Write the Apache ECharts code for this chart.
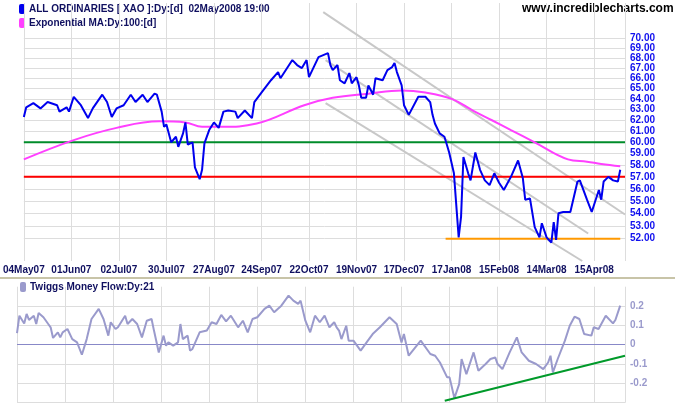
<!DOCTYPE html>
<html>
<head>
<meta charset="utf-8">
<script src="https://cdn.jsdelivr.net/npm/echarts@6/dist/echarts.min.js"></script>
<style>
  html, body { margin: 0; padding: 0; background: #fff; }
  #chart { width: 675px; height: 410px; }
</style>
</head>
<body>
<div id="chart"></div>
<script>
// trading day index (0 = 04May07) and price (hundreds)
const priceDay = [0, 1, 4, 7, 10, 14, 15, 18, 19, 21, 24, 27, 29, 33, 35, 37, 39, 42, 45, 47, 50, 52, 55, 56, 58, 59, 60, 62, 64, 65, 67, 68, 69, 71, 72, 74, 75, 76, 78, 80, 82, 84, 86, 89, 90, 93, 96, 97, 100, 104, 107, 108, 113, 115, 117, 119, 120, 124, 128, 129,
  130, 132, 133, 135, 137, 138, 140, 141, 142, 144, 145, 147, 148, 151, 153, 155, 156, 157, 159, 160, 162, 166, 169, 171, 172, 173, 175, 177, 178, 179, 181, 183, 184, 185, 187, 188, 190, 192, 194, 196, 198, 200, 202, 205, 208, 210, 211, 213, 215, 217, 218, 220, 222, 223, 224, 225, 227, 230, 233, 234, 237, 239, 242, 243, 244, 246, 248, 250, 251];
const priceVal = [62.3, 63.2, 63.6, 63.1, 63.7, 63.4, 62.8, 63.2, 62.8, 64.2, 63.4, 62.2, 63.1, 64.4, 63.7, 62.3, 63.1, 63.4, 64.4, 63.7, 64.4, 63.7, 64.5, 64.4, 62.8, 61.4, 61.6, 60.0, 60.5, 59.6, 60.8, 61.8, 59.8, 60.0, 57.8, 56.8, 57.6, 59.9, 61.1, 61.8, 61.3, 62.8, 62.9, 62.8, 62.2, 62.9, 62.2, 63.7, 64.6, 65.8, 66.6, 66.0, 67.8, 67.3, 67.0, 67.8, 66.1, 68.1, 68.5, 67.3,
  66.8, 67.3, 65.8, 65.5, 66.5, 65.5, 66.1, 65.3, 64.1, 64.1, 65.3, 64.4, 66.0, 65.8, 66.8, 67.1, 67.5, 66.6, 65.3, 63.4, 62.5, 64.2, 64.2, 63.7, 62.5, 61.7, 60.8, 60.5, 59.8, 59.1, 57.3, 52.1, 53.7, 58.7, 57.3, 56.7, 59.1, 57.6, 56.7, 56.3, 57.3, 56.5, 55.9, 57.0, 58.4, 56.9, 55.1, 55.2, 52.9, 52.1, 53.2, 52.1, 51.7, 53.3, 51.9, 54.0, 54.1, 54.1, 56.6, 56.7, 55.1, 54.1, 55.9, 55.1, 56.6, 57.0, 56.7, 56.6, 57.6];

const emaDay = [0, 21, 39, 57, 68, 75, 83, 98, 118, 130, 145, 159, 169, 180, 189, 197, 205, 215, 229, 237, 243, 251];
const emaVal = [58.5, 60.2, 61.3, 61.9, 61.8, 61.4, 61.4, 61.7, 63.4, 64.1, 64.5, 64.8, 64.6, 64.0, 62.9, 62.0, 61.1, 60.0, 58.5, 58.3, 58.1, 57.9];

const tmfDay = [0, 1, 3, 4, 5, 7, 8, 9, 11, 13, 14, 15, 17, 18, 19, 21, 23, 25, 27, 29, 31, 34, 36, 38, 39, 41, 42, 45, 46, 48, 50, 52, 54, 56, 57, 59, 61, 62, 63, 65, 67, 68, 69, 71, 72, 73, 76, 79, 81, 83, 85, 87, 89, 92, 94, 96, 98, 100, 103, 105, 107, 110, 113, 115, 117, 118, 120, 122, 124, 126, 128, 130, 132, 133, 134, 135, 137, 138, 140, 143, 146, 148, 151, 155, 158, 160, 161, 163, 168, 172, 174, 176, 179, 180, 182, 184, 185, 187, 190, 192, 195, 197, 199, 200, 202, 205, 208, 210, 213, 216, 219, 221, 222, 223, 225, 228, 230, 232, 234, 236, 239, 240, 242, 245, 248, 249, 251];
const tmfVal = [0.06, 0.15, 0.11, 0.159, 0.128, 0.15, 0.107, 0.164, 0.142, 0.107, 0.09, 0.035, 0.064, 0.038, 0.064, 0.081, 0.029, 0.012, -0.052, 0.029, 0.133, 0.185, 0.133, 0.047, 0.116, 0.081, 0.09, 0.15, 0.107, 0.133, 0.107, 0.038, 0.124, 0.133, 0.073, -0.04, 0.047, -0.005, 0.012, -0.005, 0.012, 0.107, 0.029, 0.047, -0.031, -0.022, 0.064, 0.073, 0.116, 0.107, 0.154, 0.121, 0.15, 0.09, 0.124, 0.064, 0.133, 0.142, 0.185, 0.202, 0.168, 0.202, 0.254, 0.228, 0.211, 0.228, 0.124, 0.064, 0.15, 0.116, 0.15, 0.09, 0.116, 0.09, 0.073, 0.029, 0.098, 0.021, 0.021, -0.031, 0.021, 0.055, 0.09, 0.142, 0.107, 0.012, 0.055, -0.057, 0.021, -0.048, -0.057, -0.092, -0.169, -0.169, -0.276, -0.204, -0.074, -0.152, -0.04, -0.135, -0.1, -0.074, -0.066, -0.1, -0.126, -0.04, 0.038, -0.04, -0.083, -0.1, -0.126, -0.092, -0.057, -0.143, -0.074, 0.021, 0.098, 0.145, 0.133, 0.055, 0.047, 0.09, 0.081, 0.15, 0.11, 0.128, 0.202];

const dateLabels = ['04May07', '01Jun07', '02Jul07', '30Jul07', '27Aug07', '24Sep07', '22Oct07', '19Nov07', '17Dec07', '17Jan08', '15Feb08', '14Mar08', '15Apr08'];
const priceTicks = [52, 53, 54, 55, 56, 57, 58, 59, 60, 61, 62, 63, 64, 65, 66, 67, 68, 69, 70];
const tmfTicks = [-0.2, -0.1, 0, 0.1, 0.2];
const tmfGrid = [-0.3, -0.2, -0.1, 0.1, 0.2];

// hand-drawn lines: [day, value] end points
const greenLevel = [[0, 60], [253, 60]];
const redLevel = [[0, 57], [253, 57]];
const orangeLevel = [[177.5, 52], [251, 52]];
const channels = [
  [[126, 72.8], [253, 53.9]],
  [[127, 67.8], [237.5, 52.4]],
  [[127, 63.6], [235, 50.3]]
];
const tmfTrend = [[178, -0.29], [253, -0.057]];

const LN_MIN = Math.log(50.3);
const LN_MAX = Math.log(73.8);
const ln = p => [p[0], Math.log(p[1])];

const myChart = echarts.init(document.getElementById('chart'));

const xBase = {
  type: 'value', min: 0, max: 253, interval: 20,
  axisLine: { show: false }, axisTick: { show: false },
  splitLine: { show: true, lineStyle: { color: '#dddddd' } }
};

function lineSeries(data, color, width, yIdx, extra) {
  return Object.assign({
    type: 'line', xAxisIndex: yIdx, yAxisIndex: yIdx, data, z: 5,
    symbol: 'none', silent: true,
    lineStyle: { color, width }
  }, extra || {});
}

let series = [];

// price grid lines + right labels
series.push({
  type: 'line', xAxisIndex: 0, yAxisIndex: 0, data: [], silent: true, z: 1,
  markLine: {
    symbol: 'none', silent: true, precision: 10, z: 1,
    lineStyle: { color: '#dddddd', width: 1, type: 'solid' },
    label: {
      position: 'end', distance: 5, color: '#1010ee',
      fontFamily: 'Liberation Sans', fontWeight: 'bold', fontSize: 10,
      formatter: p => Math.exp(p.value).toFixed(2)
    },
    data: priceTicks.map(v => ({ yAxis: Math.log(v) }))
  }
});
channels.forEach(c => series.push(lineSeries(c.map(ln), '#c8c8c8', 2, 0)));
series.push(lineSeries(greenLevel.map(ln), '#008c2a', 2, 0));
series.push(lineSeries(redLevel.map(ln), '#ff0000', 2, 0));
series.push(lineSeries(orangeLevel.map(ln), '#ff9900', 2, 0));
series.push(lineSeries(emaDay.map((d, i) => [d, Math.log(emaVal[i])]), '#ff40ff', 2, 0, { smooth: 0.4 }));
series.push(lineSeries(priceDay.map((d, i) => [d, Math.log(priceVal[i])]), '#0000ee', 2, 0));

// money flow grid + zero line
series.push({
  type: 'line', xAxisIndex: 1, yAxisIndex: 1, data: [], silent: true, z: 1,
  markLine: {
    symbol: 'none', silent: true, precision: 10, z: 1,
    label: { show: false },
    data: tmfGrid.map(v => ({ yAxis: v, lineStyle: { color: '#dddddd', width: 1, type: 'solid' } }))
      .concat([{ yAxis: 0, lineStyle: { color: '#8888c8', width: 1, type: 'solid' } }])
  }
});
series.push(lineSeries(tmfDay.map((d, i) => [d, tmfVal[i]]), '#9a9acc', 2, 1));
series.push(lineSeries(tmfTrend, '#009a2a', 2, 1));

const option = {
  animation: false,
  backgroundColor: '#ffffff',
  grid: [
    { left: 17, right: 50, top: 3, height: 258 },
    { left: 17, right: 50, top: 286.7, height: 116 }
  ],
  xAxis: [
    Object.assign({}, xBase, {
      gridIndex: 0,
      axisLabel: {
        show: true, margin: 4, color: '#101060', fontFamily: 'Liberation Sans',
        fontWeight: 'bold', fontSize: 10,
        formatter: v => dateLabels[v / 20] || ''
      }
    }),
    Object.assign({}, xBase, { gridIndex: 1, axisLabel: { show: false } })
  ],
  yAxis: [
    { type: 'value', gridIndex: 0, min: LN_MIN, max: LN_MAX, show: false, splitLine: { show: false } },
    {
      type: 'value', gridIndex: 1, min: -0.3, max: 0.3, interval: 0.1, position: 'right',
      axisLine: { show: false }, axisTick: { show: false },
      splitLine: { show: false },
      axisLabel: {
        color: '#9a9acc', fontFamily: 'Liberation Sans', fontWeight: 'bold', fontSize: 10, margin: 5,
        formatter: v => {
          const r = Math.round(v * 10) / 10;
          return tmfTicks.indexOf(r) >= 0 ? String(r) : '';
        }
      }
    }
  ],
  graphic: [
    { type: 'rect', shape: { x: 0, y: 277, width: 675, height: 2 }, style: { fill: '#c8c4a8' } },
    { type: 'rect', shape: { x: 19, y: 4, width: 6, height: 10, r: 2 }, style: { fill: '#0000ee' } },
    { type: 'text', x: 29, y: 4, style: { text: 'ALL ORDINARIES [ XAO ]:Dy:[d]  02May2008 19:00', fill: '#101060', font: 'bold 10px "Liberation Sans"' } },
    { type: 'rect', shape: { x: 19, y: 18, width: 6, height: 10, r: 2 }, style: { fill: '#ff40ff' } },
    { type: 'text', x: 29, y: 18, style: { text: 'Exponential MA:Dy:100:[d]', fill: '#101060', font: 'bold 10px "Liberation Sans"' } },
    { type: 'rect', shape: { x: 20, y: 282, width: 6, height: 10, r: 2 }, style: { fill: '#9a9acc' } },
    { type: 'text', x: 30, y: 282, style: { text: 'Twiggs Money Flow:Dy:21', fill: '#101060', font: 'bold 10px "Liberation Sans"' } },
    { type: 'text', x: 522, y: 3, style: { text: 'www.incrediblecharts.com', fill: '#000000', font: 'bold 12px "Liberation Sans"' } }
  ],
  series
};

option && myChart.setOption(option);
</script>
</body>
</html>
